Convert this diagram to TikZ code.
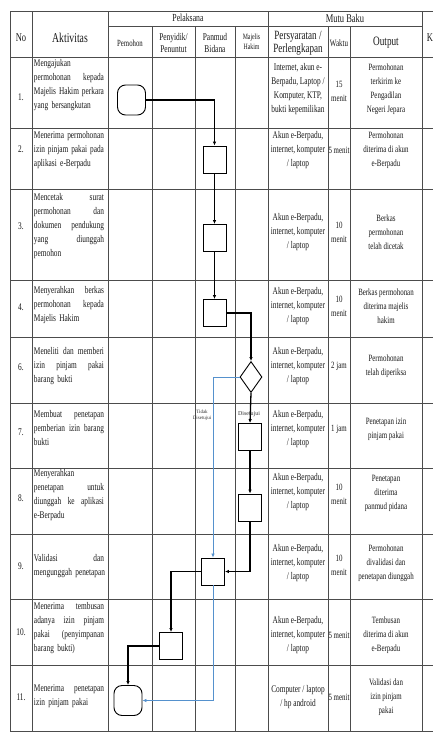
\documentclass[tikz,border=0pt]{standalone}
\usepackage{fontspec}
\setmainfont{Liberation Serif}[FakeStretch=0.72]
\newfontfamily\widefont{Liberation Serif}
\usetikzlibrary{arrows.meta,shapes.geometric}
\newcommand{\J}[1]{\makebox[70pt][s]{\spaceskip=0pt\xspaceskip=0pt\relax #1}}
\definecolor{altblue}{RGB}{85,145,205}
\begin{document}
\begin{tikzpicture}[x=1pt,y=-1pt,
  grid/.style={draw=black!70,line width=0.6pt},
  body/.style={font=\fontsize{10.2}{14}\selectfont, inner sep=0pt, text=black!90},
  akt/.style={body, align=left, text width=72pt, anchor=center},
  cen/.style={body, align=center},
  wkt/.style={cen, font=\fontsize{9.6}{14}\selectfont},
  outp/.style={cen, font=\fontsize{9.6}{14}\selectfont},
  hdr/.style={inner sep=0pt, align=center, text=black!90},
  proc/.style={draw, line width=0.9pt, minimum width=23pt, minimum height=27pt, inner sep=0pt},
  term/.style={draw, line width=0.9pt, rounded corners=8pt, minimum width=28pt, minimum height=30pt, inner sep=0pt},
  dec/.style={draw, diamond, line width=0.9pt, minimum width=22pt, minimum height=31pt, inner sep=0pt},
  flow/.style={line width=1.3pt, -{Latex[length=4pt,width=3.5pt]}},
  alt/.style={draw=altblue, line width=0.7pt, -{Latex[length=4pt,width=3.5pt]}},
  tiny/.style={inner sep=0pt, align=center, text=black!80}
]
\useasboundingbox (0,0) rectangle (433,734);
\fill[white] (0,0) rectangle (433,734);

% ---- grid ----
\foreach \y in {11,57,128,189,280,337,403,468,534,599,665,731}
  \draw[grid] (10,\y) -- (433,\y);
\draw[grid] (108,26) -- (422,26);
\foreach \x in {10,32,108,268,422}
  \draw[grid] (\x,11) -- (\x,731);
\foreach \x in {152,195,235,328,350}
  \draw[grid] (\x,26) -- (\x,731);

% ---- header ----
\node[hdr, font=\fontsize{11.8}{13}\selectfont] (hno) at (21,38) {No};
\node[hdr, font=\fontsize{13.5}{13}\selectfont] (hakt) at (70,38) {Aktivitas};
\node[hdr, font=\fontsize{10.8}{12}\selectfont] (hpel) at (188,18) {Pelaksana};
\node[hdr, font=\fontsize{11.8}{12}\selectfont] (hmutu) at (345,18) {Mutu Baku};
\node[hdr, font=\fontsize{9.4}{12}\selectfont] (hpem) at (130,43) {Pemohon};
\node[hdr, font=\fontsize{10.3}{12.5}\selectfont] (hpen) at (173.5,43) {Penyidik/\\Penuntut};
\node[hdr, font=\fontsize{10.3}{12.5}\selectfont] (hpan) at (215,43) {Panmud\\Bidana};
\node[hdr, font=\fontsize{8.1}{10}\selectfont] (hmaj) at (251.5,42) {Majelis\\Hakim};
\node[hdr, font=\fontsize{12.6}{13}\selectfont] (hper) at (298,43) {Persyaratan /\\Perlengkapan};
\node[hdr, font=\fontsize{9.7}{12}\selectfont] (hwak) at (339,43) {Waktu};
\node[hdr, font=\fontsize{12.8}{13}\selectfont] (hout) at (386,43) {Output};
\node[hdr, font=\fontsize{11.8}{13}\selectfont] (hk) at (430,38) {K};

% ---- numbers ----
\node[body] (n1) at (21,97) {1.};
\node[body] (n2) at (21,149) {2.};
\node[body] (n3) at (21,226) {3.};
\node[body] (n4) at (21,307) {4.};
\node[body] (n6) at (21,367) {6.};
\node[body] (n7) at (21,432) {7.};
\node[body] (n8) at (21,498) {8.};
\node[body] (n9) at (21,566) {9.};
\node[body] (n10) at (21,632) {10.};
\node[body] (n11) at (21,697) {11.};

% ---- activities ----
\node[akt] (a1) at (70,85) {Mengajukan\\\J{permohonan kepada}\\\J{Majelis Hakim perkara}\\yang bersangkutan};
\node[akt] (a2) at (70,150) {\J{Menerima permohonan}\\\J{izin pinjam pakai pada}\\aplikasi e-Berpadu};
\node[akt] (a3) at (70,226) {\J{Mencetak surat}\\\J{permohonan dan}\\\J{dokumen pendukung}\\\J{yang diunggah}\\pemohon};
\node[akt] (a4) at (70,305) {\J{Menyerahkan berkas}\\\J{permohonan kepada}\\Majelis Hakim};
\node[akt] (a6) at (70,366) {\J{Meneliti dan memberi}\\\J{izin pinjam pakai}\\barang bukti};
\node[akt] (a7) at (70,428) {\J{Membuat penetapan}\\\J{pemberian izin barang}\\bukti};
\node[akt] (a8) at (70,495) {Menyerahkan\\\J{penetapan untuk}\\\J{diunggah ke aplikasi}\\e-Berpadu};
\node[akt] (a9) at (70,566) {\J{Validasi dan}\\\mbox{mengunggah penetapan}};
\node[akt] (a10) at (70,628) {\J{Menerima tembusan}\\\J{adanya izin pinjam}\\\J{pakai (penyimpanan}\\barang bukti)};
\node[akt] (a11) at (70,696) {\J{Menerima penetapan}\\izin pinjam pakai};

% ---- persyaratan ----
\node[cen] (p1) at (298,89) {Internet, akun e-\\Berpadu, Laptop /\\Komputer, KTP,\\bukti kepemilikan};
\node[cen] (p2) at (298,150) {Akun e-Berpadu,\\internet, komputer\\/ laptop};
\node[cen] (p3) at (298,232) {Akun e-Berpadu,\\internet, komputer\\/ laptop};
\node[cen] (p4) at (298,306) {Akun e-Berpadu,\\internet, komputer\\/ laptop};
\node[cen] (p6) at (298,366) {Akun e-Berpadu,\\internet, komputer\\/ laptop};
\node[cen] (p7) at (298,429) {Akun e-Berpadu,\\internet, komputer\\/ laptop};
\node[cen] (p8) at (298,492) {Akun e-Berpadu,\\internet, komputer\\/ laptop};
\node[cen] (p9) at (298,563) {Akun e-Berpadu,\\internet, komputer\\/ laptop};
\node[cen] (p10) at (298,635) {Akun e-Berpadu,\\internet, komputer\\/ laptop};
\node[cen] (p11) at (298,697) {Computer / laptop\\/ hp android};

% ---- waktu ----
\node[wkt] (w1) at (339,91) {15\\menit};
\node[wkt] (w2) at (339,150) {5 menit};
\node[wkt] (w3) at (339,232) {10\\menit};
\node[wkt] (w4) at (339,306) {10\\menit};
\node[wkt] (w6) at (339,366) {2 jam};
\node[wkt] (w7) at (339,429) {1 jam};
\node[wkt] (w8) at (339,494) {10\\menit};
\node[wkt] (w9) at (339,565) {10\\menit};
\node[wkt] (w10) at (339,635) {5 menit};
\node[wkt] (w11) at (339,697) {5 menit};

% ---- output ----
\node[outp] (o1) at (386,89) {Permohonan\\terkirim ke\\Pengadilan\\Negeri Jepara};
\node[outp] (o2) at (386,150) {Permohonan\\diterima di akun\\e-Berpadu};
\node[outp] (o3) at (386,232) {Berkas\\permohonan\\telah dicetak};
\node[outp] (o4) at (386,306) {Berkas permohonan\\diterima majelis\\hakim};
\node[outp] (o6) at (386,366) {Permohonan\\telah diperiksa};
\node[outp] (o7) at (386,429) {Penetapan izin\\pinjam pakai};
\node[outp] (o8) at (386,493) {Penetapan\\diterima\\panmud pidana};
\node[outp] (o9) at (386,563) {Permohonan\\divalidasi dan\\penetapan diunggah};
\node[outp] (o10) at (386,635) {Tembusan\\diterima di akun\\e-Berpadu};
\node[outp] (o11) at (386,697) {Validasi dan\\izin pinjam\\pakai};

% ---- flow shapes ----
\node[term] (t1) at (131.5,100) {};
\node[proc] (b2) at (214.5,159.5) {};
\node[proc] (b3) at (214.5,238) {};
\node[proc] (b4) at (214.5,313) {};
\node[dec] (d6) at (251,377) {};
\node[proc] (b7) at (250,437) {};
\node[proc] (b8) at (250,507.5) {};
\node[proc] (b9) at (213,571.5) {};
\node[proc] (b10) at (171,646) {};
\node[term] (t11) at (128,700.5) {};

% ---- connectors ----
\draw[flow] (t1.east) -| (b2.north);
\draw[flow] (b2.south) -- (b3.north);
\draw[flow] (b3.south) -- (b4.north);
\draw[flow] (b4.east) -| (d6.north);
\draw[flow] (d6.south) -- (b7.north);
\draw[flow] (b7.south) -- (b8.north);
\draw[flow] (b8.south) |- (b9.east);
\draw[flow] (b9.west) -| (b10.north);
\draw[flow] (b10.west) -| (t11.north);
\draw[alt] (d6.west) -| (b9.north);
\draw[alt] (b9.south) |- (t11.east);

% ---- decision labels ----
\node[tiny, font=\widefont\fontsize{5}{6}\selectfont] (ltidak) at (202,415.5) {Tidak\\Disetujui};
\node[tiny, font=\widefont\fontsize{6}{7}\selectfont] (lsetuju) at (249,414.5) {Disetujui};
\end{tikzpicture}
\end{document}
